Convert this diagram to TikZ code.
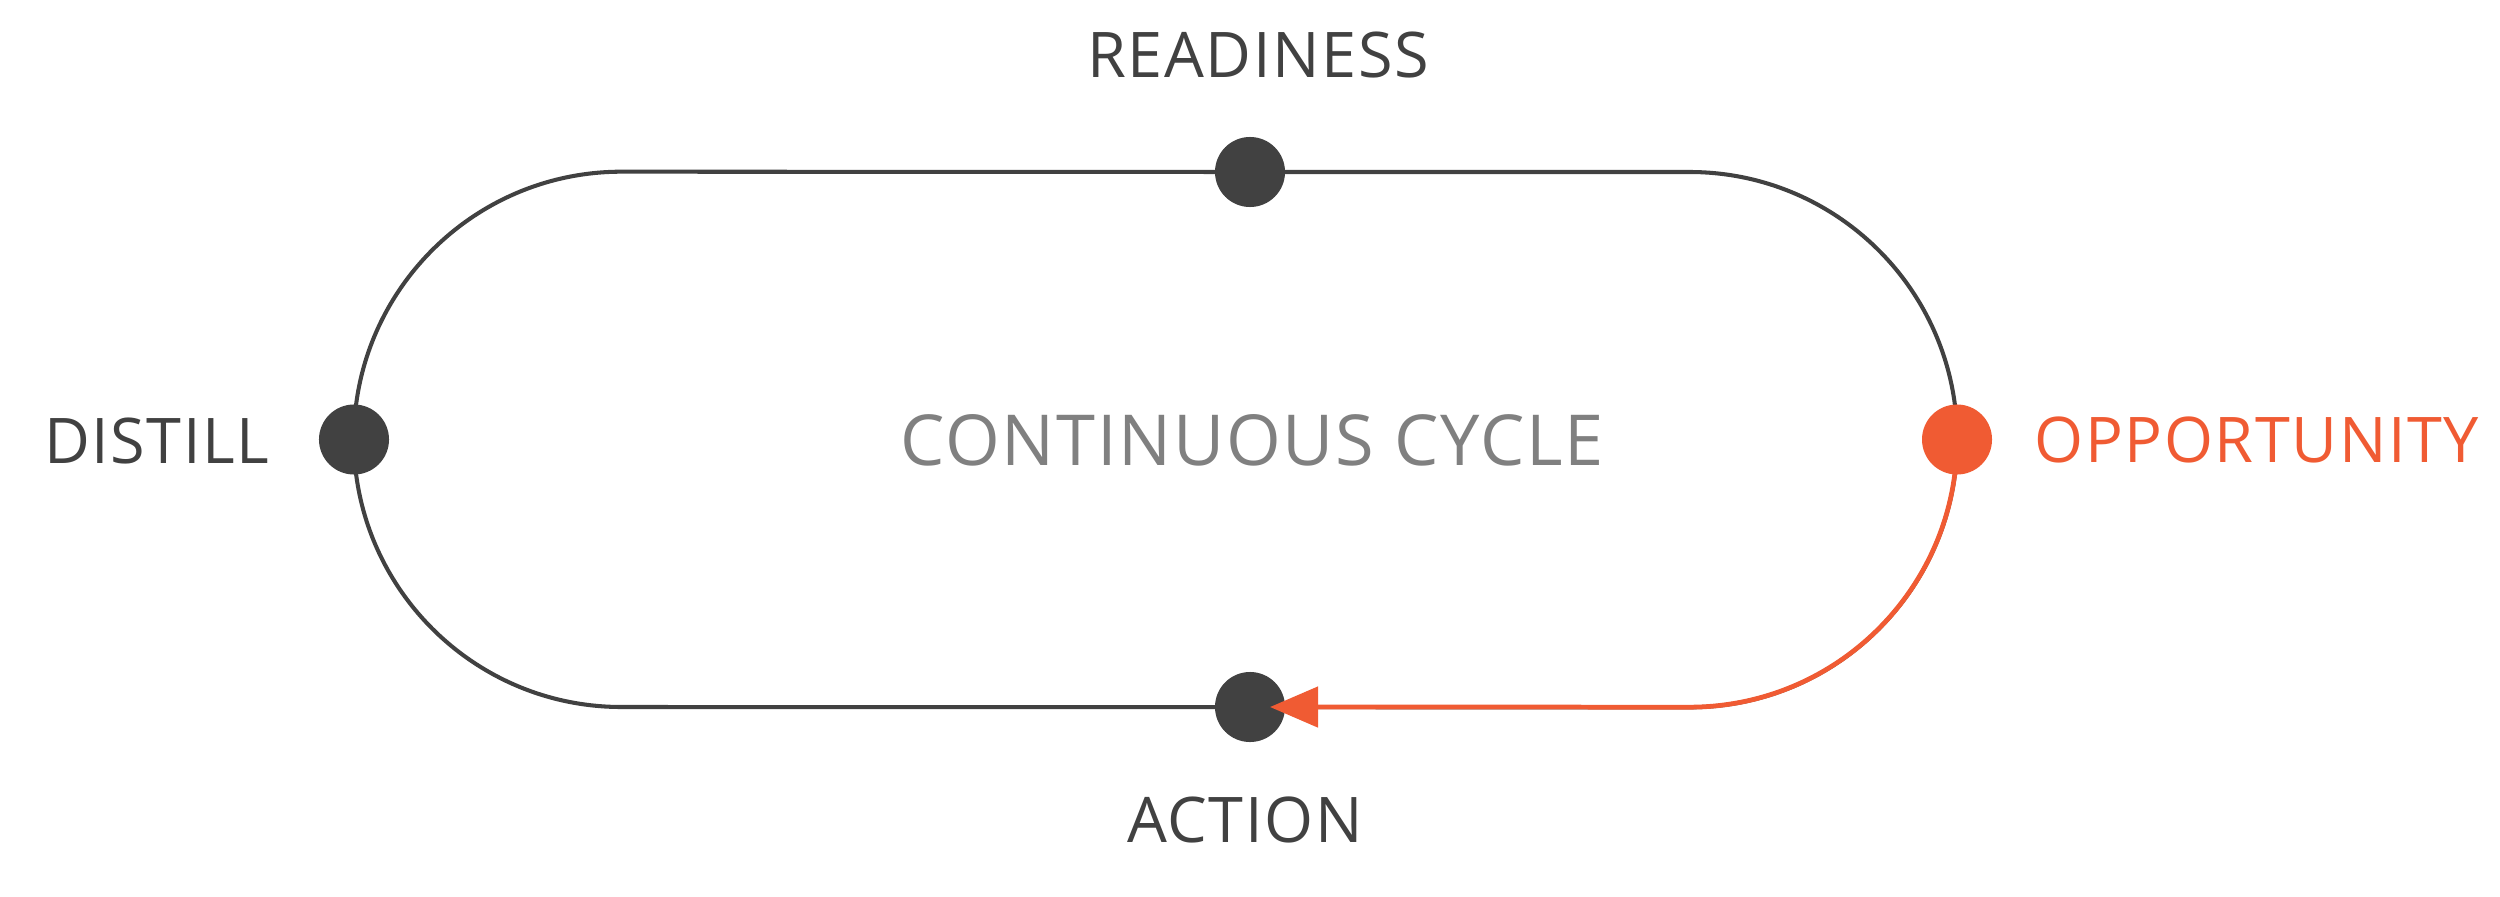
\documentclass[tikz,border=0pt]{standalone}
\usepackage{fontspec}
\setmainfont{Open Sans}[LetterSpace=2.5]
\usetikzlibrary{arrows.meta}
\definecolor{ink}{HTML}{414141}
\definecolor{accent}{HTML}{F05B33}
\definecolor{soft}{HTML}{808080}
\tikzset{
  ring/.style={draw=ink, line width=1.15pt},
  hot/.style={draw=accent, line width=1.35pt},
  dot/.style={circle, fill=ink, minimum size=0.7cm, inner sep=0pt},
  hotdot/.style={dot, fill=accent},
  lbl/.style={text=ink, font=\fontsize{17.9}{20}\selectfont, inner sep=0pt},
  hotlbl/.style={lbl, text=accent},
  midlbl/.style={lbl, text=soft, font=\fontsize{20}{22}\selectfont}
}
\begin{document}
\begin{tikzpicture}[x=0.01cm, y=0.01cm]
\useasboundingbox (0,0) rectangle (2500,896);
\fill[white] (0,0) rectangle (2500,896);
\coordinate (tip) at (1270,189);
% ring
\draw[ring] (1250,724) -- (1689.5,724) arc[start angle=90,end angle=-90,radius=2.675cm]
  -- (621.5,189) arc[start angle=270,end angle=90,radius=2.675cm] -- cycle;
% dots
\node[dot] (top) at (1250,724) {};
\node[dot] (bottom) at (1250,189) {};
\node[dot] (left) at (354,456.5) {};
\node[hotdot] (right) at (1957,456.5) {};
% orange return path
\draw[hot, -{Triangle[length=0.48cm,width=0.4cm]}, shift={(0.25pt,-0.3pt)}] (right.center)
  arc[start angle=0,end angle=-90,radius=2.675cm] -- (tip);
% labels
\node[lbl, anchor=base] (readiness) at (1258,818) {READINESS};
\node[lbl, anchor=base] (action) at (1245,54) {ACTION};
\node[lbl, anchor=base east] (distill) at (270,433) {DISTILL};
\node[hotlbl, anchor=base west] (opportunity) at (2034,434) {OPPORTUNITY};
\node[midlbl, anchor=base] (cycle) at (1252,431) {CONTINUOUS CYCLE};
\end{tikzpicture}
\end{document}
